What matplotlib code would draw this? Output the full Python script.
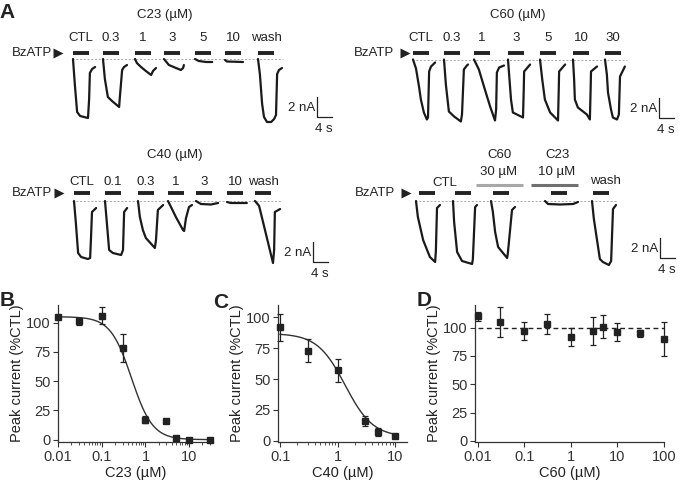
import matplotlib
matplotlib.use('Agg')
import matplotlib.pyplot as plt
from matplotlib.ticker import LogLocator, NullFormatter
import numpy as np

plt.rcParams['font.family'] = ['Liberation Sans', 'DejaVu Sans']
INK = '#222222'

# ---------------- panel A: current traces, (time s, current nA) ----------------
C23_LABELS = ['CTL', '0.3', '1', '3', '5', '10', 'wash']
C23_TRACES = [
    [(0, 0), (0.5, -2.6), (1.1, -5.3), (1.9, -5.7), (4.0, -5.9), (4.3, -4.0), (4.5, -1.4), (5.1, -1.0), (5.9, -0.8)],
    [(0, 0), (0.5, -2.0), (1.3, -3.8), (2.4, -4.2), (4.3, -4.8), (4.5, -3.8), (5.1, -1.1), (5.6, -0.8), (6.4, -0.6)],
    [(0, 0), (0.5, -0.4), (1.6, -0.8), (2.9, -1.2), (4.3, -1.6), (4.8, -1.2), (5.6, -0.9)],
    [(0, 0), (1.3, -0.6), (3.2, -0.9), (4.5, -1.1), (5.1, -0.9), (5.3, -0.6)],
    [(0, 0), (1.0, -0.2), (3.0, -0.3), (4.6, -0.3)],
    [(0, -0.1), (0.5, -0.25), (4.8, -0.3)],
    [(0, 0), (0.5, -1.5), (1.1, -4.5), (1.6, -5.8), (2.4, -6.3), (3.5, -6.3), (4.3, -6.0), (4.8, -5.6), (5.1, -1.5), (5.6, -1.1), (6.4, -0.9)],
]

C60_LABELS = ['CTL', '0.3', '1', '3', '5', '10', '30']
C60_TRACES = [
    [(0, 0), (0.8, -0.9), (1.6, -2.7), (2.1, -4.0), (2.9, -5.3), (3.7, -6.0), (4.0, -5.8), (4.3, -1.2), (4.8, -0.7), (5.9, -0.3)],
    [(0, 0), (0.5, -2.5), (1.3, -5.2), (2.7, -5.7), (4.5, -6.2), (4.8, -5.5), (5.3, -1.0), (6.1, -0.6), (6.4, -0.5)],
    [(0, 0), (1.3, -1.0), (2.9, -3.0), (4.3, -4.7), (5.6, -6.1), (5.9, -5.0), (6.1, -1.3), (6.7, -0.8), (8.0, -0.6)],
    [(0, 0), (0.4, -2.0), (0.8, -4.0), (1.3, -5.3), (4.0, -5.8), (4.2, -3.0), (4.3, -1.2), (5.9, -0.5)],
    [(0, 0), (0.6, -2.0), (1.3, -4.0), (2.7, -5.3), (4.8, -6.1), (5.0, -3.0), (5.1, -1.2), (6.7, -0.5)],
    [(0, 0), (0.3, -2.0), (0.5, -4.0), (1.3, -4.8), (3.7, -5.5), (4.5, -6.0), (4.7, -3.0), (4.8, -1.2), (6.4, -0.7)],
    [(0, 0), (0.5, -1.5), (0.8, -3.3), (1.6, -5.0), (2.1, -5.8), (3.2, -6.0), (3.7, -5.5), (4.0, -1.7), (5.3, -0.7)],
]

C40_LABELS = ['CTL', '0.1', '0.3', '1', '3', '10', 'wash']
C40_TRACES = [
    [(0, 0), (0.5, -2.2), (1.1, -5.2), (1.9, -5.6), (3.7, -5.8), (4.3, -5.7), (4.5, -4.0), (4.8, -1.1), (5.9, -0.7)],
    [(0, 0), (0.5, -2.2), (1.1, -4.9), (2.1, -5.2), (4.3, -5.4), (4.8, -4.9), (5.1, -1.1), (5.9, -0.7)],
    [(0, 0), (0.5, -1.6), (1.3, -2.9), (2.1, -3.7), (4.5, -4.7), (4.8, -3.9), (5.3, -0.9), (6.7, -0.4)],
    [(0, 0), (0.8, -0.6), (2.1, -1.6), (4.0, -2.9), (4.3, -3.0), (4.8, -1.7), (5.6, -0.6), (6.4, -0.4)],
    [(0, 0), (1.3, -0.3), (4.0, -0.35), (5.9, -0.2)],
    [(0, -0.1), (1.0, -0.2), (5.3, -0.2)],
    [(0, 0), (1.1, -0.5), (2.4, -2.5), (3.7, -4.5), (4.8, -6.2), (5.1, -4.9), (5.3, -1.1), (6.7, -0.8)],
]

MIX_TRACES = [
    [(0, 0), (0.5, -1.6), (1.9, -3.9), (3.7, -5.6), (5.1, -6.1), (5.3, -5.0), (5.6, -0.7), (6.4, -0.4)],
    [(0, 0), (0.3, -2.1), (1.1, -5.1), (2.4, -6.0), (5.1, -6.3), (5.3, -5.8), (5.9, -0.6), (6.4, -0.4)],
    [(0, 0), (0.5, -1.1), (1.1, -3.1), (1.9, -4.6), (3.2, -5.2), (4.3, -5.7), (4.5, -5.2), (5.6, -0.9), (6.4, -0.6)],
    [(0, 0), (0.8, -0.3), (4.0, -0.35), (7.5, -0.3), (8.8, -0.1)],
    [(0, 0), (0.5, -1.8), (1.3, -3.8), (2.1, -5.8), (2.9, -6.1), (4.5, -6.4), (5.1, -6.0), (5.6, -0.8), (6.4, -0.4)],
]

# ---------------- panels B-D: dose response ----------------
B_CONC = [0.01, 0.03, 0.1, 0.3, 1, 3, 5, 10, 30]
B_MEAN = [105, 101, 106, 78, 17, 16, 1, 0, 0]
B_SEM = [0, 3, 7.5, 12, 3, 1.5, 1, 0.5, 0.5]
B_FIT = dict(top=105, bottom=0, ic50=0.48, nh=1.8)

C_CONC = [0.1, 0.3, 1, 3, 5, 10]
C_MEAN = [92, 73, 57, 16, 7, 4]
C_SEM = [11, 9.5, 9, 4, 3, 0.5]
C_FIT = dict(top=87, bottom=3, ic50=1.35, nh=1.8)

D_CONC = [0.01, 0.03, 0.1, 0.3, 1, 3, 5, 10, 30, 100]
D_MEAN = [110, 105, 97, 103, 92, 97, 101, 96, 95, 90]
D_SEM = [4, 13, 8, 9, 8, 12, 10, 8, 3, 15]

# ---------------- layout ----------------
PX_S, PX_NA = 3.75, 10.0     # pixels per second / per nA
BAR_PX = 16

fig = plt.figure(figsize=(6.83, 4.82), dpi=100)
ax0 = fig.add_axes([0, 0, 1, 1])
ax0.set_xlim(0, 683)
ax0.set_ylim(482, 0)
ax0.axis('off')


def sweeps(onsets, traces, base):
    for x0, tr in zip(onsets, traces):
        t = np.array([p[0] for p in tr])
        cur = np.array([p[1] for p in tr])
        ax0.plot(x0 + t * PX_S, base - cur * PX_NA, color='#1a1a1a', lw=1.6,
                 solid_joinstyle='round', solid_capstyle='round')


def bars(xs, y, color=INK, length=BAR_PX, lw=2.8):
    for x in xs:
        ax0.plot([x, x + length], [y, y], color=color, lw=lw, solid_capstyle='butt')


def baseline(x1, x2, y):
    ax0.plot([x1, x2], [y, y], color='#a0a0a0', lw=0.6, ls=(0, (2.5, 2)))


def bzatp(x_right, y, gap):
    ax0.text(x_right, y, 'BzATP', ha='right', va='center', fontsize=9.5, color=INK)
    ax0.plot([x_right + gap], [y], marker='>', ms=6.5, color=INK, mec='none')


def scalebar(x, y):
    ax0.plot([x, x, x + 4 * PX_S], [y - 2 * PX_NA, y, y], color=INK, lw=0.9)
    ax0.text(x - 2, y - 9, '2 nA', ha='right', va='center', fontsize=9.5, color=INK)
    ax0.text(x + 7, y + 12, '4 s', ha='center', va='center', fontsize=9.5, color=INK)


def row_labels(xs, labels, y):
    for x, lab in zip(xs, labels):
        ax0.text(x + BAR_PX / 2, y, lab, ha='center', va='center', fontsize=9.5, color=INK)


# top-left: C23
on = [73, 103, 135, 164, 195, 225, 258]
ax0.text(165, 15, 'C23 (µM)', ha='center', va='center', fontsize=9.5, color=INK)
row_labels(on, C23_LABELS, 38)
bars(on, 53)
baseline(72, 283, 59)
sweeps(on, C23_TRACES, 59)
bzatp(52, 53, 6)
scalebar(317, 117)

# top-right: C60
on = [413, 444, 474, 508, 540, 573, 605]
ax0.text(518, 15, 'C60 (µM)', ha='center', va='center', fontsize=9.5, color=INK)
row_labels(on, C60_LABELS, 38)
bars(on, 53)
baseline(412, 627, 59.5)
sweeps(on, C60_TRACES, 59.5)
bzatp(394, 53, 11)
scalebar(659, 118)

# bottom-left: C40
on = [74, 105, 138, 168, 196, 227, 255]
ax0.text(175, 155, 'C40 (µM)', ha='center', va='center', fontsize=9.5, color=INK)
row_labels(on, C40_LABELS, 182)
bars(on, 193)
baseline(72, 282, 201)
sweeps(on, C40_TRACES, 201)
bzatp(52, 193, 7)
scalebar(313, 262)

# bottom-right: co-application
on = [416, 453, 491, 545, 592]
bars([419, 455, 493, 551, 593], 193)
baseline(415, 617, 201)
sweeps(on, MIX_TRACES, 201)
bzatp(395, 193, 11)
scalebar(660, 258)
ax0.plot([476, 523], [185, 185], color='#a8a8a8', lw=2.2, solid_capstyle='butt')
ax0.plot([531, 578], [185, 185], color='#707070', lw=2.2, solid_capstyle='butt')
for x, y, s in [(445, 183, 'CTL'), (499, 155, 'C60'), (499, 172, '30 µM'),
                (557, 155, 'C23'), (557, 172, '10 µM'), (605, 181, 'wash')]:
    ax0.text(x, y, s, ha='center', va='center', fontsize=9.5, color=INK)

# panel letters
for x, y, s in [(7, 12, 'A'), (7, 300, 'B'), (221, 302, 'C'), (424, 300, 'D')]:
    ax0.text(x, y, s, ha='center', va='center', fontsize=15, fontweight='bold', color=INK)


def hill(conc, top, bottom, ic50, nh):
    return bottom + (top - bottom) / (1 + (conc / ic50) ** nh)


def dose_axes(rect, xlim, ylim, xticks, xlabel):
    a = fig.add_axes(rect)
    a.set_xscale('log')
    a.set_xlim(*xlim)
    a.set_ylim(*ylim)
    a.set_xticks(xticks)
    a.set_xticklabels([f'{v:g}' for v in xticks])
    a.xaxis.set_minor_locator(LogLocator(subs=np.arange(2, 10)))
    a.xaxis.set_minor_formatter(NullFormatter())
    a.set_yticks([0, 25, 50, 75, 100])
    for s in ['top', 'right']:
        a.spines[s].set_visible(False)
    for s in ['left', 'bottom']:
        a.spines[s].set_linewidth(0.9)
        a.spines[s].set_color('#333333')
    a.tick_params(which='major', length=3.5, width=0.8, direction='out',
                  labelsize=10.5, colors='#333333', pad=2)
    a.tick_params(which='minor', length=2, width=0.6, direction='out', colors='#333333')
    a.set_ylabel('Peak current (%CTL)', fontsize=10.5, color=INK, labelpad=1)
    a.set_xlabel(xlabel, fontsize=10.5, color=INK, labelpad=2)
    a.patch.set_alpha(0)
    return a


def points(a, x, y, e):
    a.errorbar(x, y, yerr=e, fmt='s', ms=3.8, color=INK, ecolor=INK, elinewidth=0.9,
               capsize=2, capthick=0.9, clip_on=False, zorder=3)


axB = dose_axes([58 / 683, 40 / 482, 155 / 683, 137 / 482], (0.01, 35), (-2, 115),
                [0.01, 0.1, 1, 10], 'C23 (µM)')
xs = np.logspace(np.log10(B_CONC[0]), np.log10(B_CONC[-1]), 200)
axB.plot(xs, hill(xs, **B_FIT), color='#333333', lw=1)
points(axB, B_CONC, B_MEAN, B_SEM)

axC = dose_axes([278 / 683, 40 / 482, 129 / 683, 137 / 482], (0.092, 16), (-1, 110),
                [0.1, 1, 10], 'C40 (µM)')
xs = np.logspace(np.log10(C_CONC[0]), np.log10(C_CONC[-1]), 200)
axC.plot(xs, hill(xs, **C_FIT), color='#333333', lw=1)
points(axC, C_CONC, C_MEAN, C_SEM)

axD = dose_axes([475 / 683, 40 / 482, 189 / 683, 137 / 482], (0.0087, 100), (-1, 120),
                [0.01, 0.1, 1, 10, 100], 'C60 (µM)')
axD.plot([D_CONC[0], D_CONC[-1]], [100, 100], color=INK, lw=1, ls=(0, (3.5, 2.5)))
points(axD, D_CONC, D_MEAN, D_SEM)

fig.savefig('out.png', dpi=100)
